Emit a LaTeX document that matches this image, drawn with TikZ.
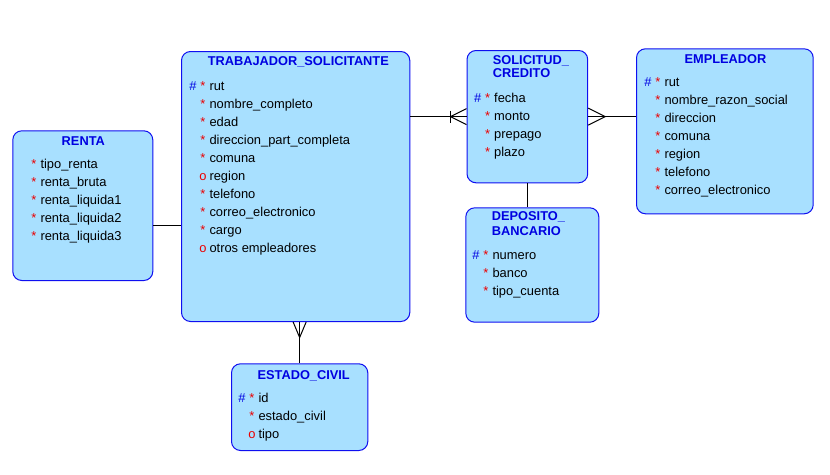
\documentclass[tikz,border=0pt]{standalone}
\usepackage{fontspec}
\setmainfont{Liberation Sans}
\usepackage{xcolor}
\definecolor{entfill}{RGB}{168,224,255}
\definecolor{entline}{RGB}{15,15,240}
\definecolor{ttlblue}{RGB}{0,0,225}
\definecolor{mkred}{RGB}{235,0,0}

\begin{document}
\begin{tikzpicture}[
    x=1pt, y=-1pt,
    font=\fontsize{12.9}{15}\selectfont,
    ent/.style={draw=entline, fill=entfill, line width=1pt, rounded corners=9pt,
        anchor=north west, inner sep=0pt},
    ttl/.style={anchor=base, font=\fontsize{12.8}{15}\selectfont\bfseries, text=ttlblue, inner sep=0pt},
    att/.style={anchor=base west, inner sep=0pt},
    pk/.style={att, execute at begin node={\llap{\textcolor{ttlblue}{\#}\hspace{4pt}\textcolor{mkred}{*}\hspace{4pt}}}},
    req/.style={att, execute at begin node={\llap{\textcolor{mkred}{*}\hspace{4pt}}}},
    opt/.style={att, execute at begin node={\llap{\textcolor{mkred}{o}\hspace{3pt}}}},
    link/.style={draw=black, line width=1pt}
]
    \useasboundingbox (0,0) rectangle (830,474);

    % entidades
    \node[ent, minimum width=228.3pt, minimum height=270pt] (trab) at (181,51) {};
    \node[ent, minimum width=120.7pt, minimum height=132.3pt] (sol) at (466.5,50) {};
    \node[ent, minimum width=176.7pt, minimum height=165pt] (emp) at (636,48.3) {};
    \node[ent, minimum width=140pt, minimum height=149.7pt] (renta) at (12.3,130.3) {};
    \node[ent, minimum width=133pt, minimum height=114.4pt] (dep) at (465.3,207.3) {};
    \node[ent, minimum width=136.3pt, minimum height=86.7pt] (est) at (231,363.3) {};

    % TRABAJADOR_SOLICITANTE
    \node[ttl] (trabT) at (298.3,65.5) {TRABAJADOR\_SOLICITANTE};
    \node[pk]  (trab1) at (209.3,90.0)  {rut};
    \node[req] (trab2) at (209.3,108.1) {nombre\_completo};
    \node[req] (trab3) at (209.3,126.2) {edad};
    \node[req] (trab4) at (209.3,144.3) {direccion\_part\_completa};
    \node[req] (trab5) at (209.3,162.4) {comuna};
    \node[opt] (trab6) at (209.3,180.5) {region};
    \node[req] (trab7) at (209.3,198.6) {telefono};
    \node[req] (trab8) at (209.3,216.7) {correo\_electronico};
    \node[req] (trab9) at (209.3,234.8) {cargo};
    \node[opt] (trab10) at (209.3,252.9) {otros empleadores};

    % SOLICITUD_CREDITO
    \node[ttl, anchor=base west] (solT1) at (492.7,64.0) {SOLICITUD\_};
    \node[ttl, anchor=base west] (solT2) at (492.7,77.5) {CREDITO};
    \node[pk]  (sol1) at (494,102.5) {fecha};
    \node[req] (sol2) at (494,120.6) {monto};
    \node[req] (sol3) at (494,138.7) {prepago};
    \node[req] (sol4) at (494,156.8) {plazo};

    % EMPLEADOR
    \node[ttl] (empT) at (725.5,63.3) {EMPLEADOR};
    \node[pk]  (emp1) at (664.3,86.0)  {rut};
    \node[req] (emp2) at (664.3,104.1) {nombre\_razon\_social};
    \node[req] (emp3) at (664.3,122.2) {direccion};
    \node[req] (emp4) at (664.3,140.3) {comuna};
    \node[req] (emp5) at (664.3,158.4) {region};
    \node[req] (emp6) at (664.3,176.5) {telefono};
    \node[req] (emp7) at (664.3,194.6) {correo\_electronico};

    % RENTA
    \node[ttl] (rentaT) at (83.3,145.0) {RENTA};
    \node[req] (renta1) at (40.3,168.3) {tipo\_renta};
    \node[req] (renta2) at (40.3,186.4) {renta\_bruta};
    \node[req] (renta3) at (40.3,204.5) {renta\_liquida1};
    \node[req] (renta4) at (40.3,222.6) {renta\_liquida2};
    \node[req] (renta5) at (40.3,240.7) {renta\_liquida3};

    % DEPOSITO_BANCARIO
    \node[ttl, anchor=base west] (depT1) at (491.7,220.7) {DEPOSITO\_};
    \node[ttl, anchor=base west] (depT2) at (491.7,235.0) {BANCARIO};
    \node[pk]  (dep1) at (492.3,259.3) {numero};
    \node[req] (dep2) at (492.3,277.2) {banco};
    \node[req] (dep3) at (492.3,295.1) {tipo\_cuenta};

    % ESTADO_CIVIL
    \node[ttl] (estT) at (303.7,379.3) {ESTADO\_CIVIL};
    \node[pk]  (est1) at (258.3,402.0) {id};
    \node[req] (est2) at (258.3,420.0) {estado\_civil};
    \node[opt] (est3) at (258.3,438.0) {tipo};

    % relaciones
    \draw[link] ([yshift=-20pt]renta.east) -- ([yshift=-20pt]renta.east -| trab.west);

    \draw[link] (sol.west) -- (sol.west -| trab.east);
    \draw[link] ([yshift=8pt]sol.west) -- ([xshift=-16pt]sol.west) -- ([yshift=-8pt]sol.west);
    \draw[link] ([xshift=-16pt,yshift=6pt]sol.west) -- ([xshift=-16pt,yshift=-6pt]sol.west);

    \draw[link] (sol.east) -- (sol.east -| emp.west);
    \draw[link] ([yshift=8.5pt]sol.east) -- ([xshift=17pt]sol.east) -- ([yshift=-8.5pt]sol.east);

    \draw[link] (sol.south) -- (sol.south |- dep.north);

    \coordinate (estC) at (est.north |- trab.south);
    \draw[link] (est.north) -- (estC);
    \draw[link] ([xshift=-6.5pt]estC) -- ([yshift=-15.5pt]estC) -- ([xshift=6.5pt]estC);
\end{tikzpicture}
\end{document}
